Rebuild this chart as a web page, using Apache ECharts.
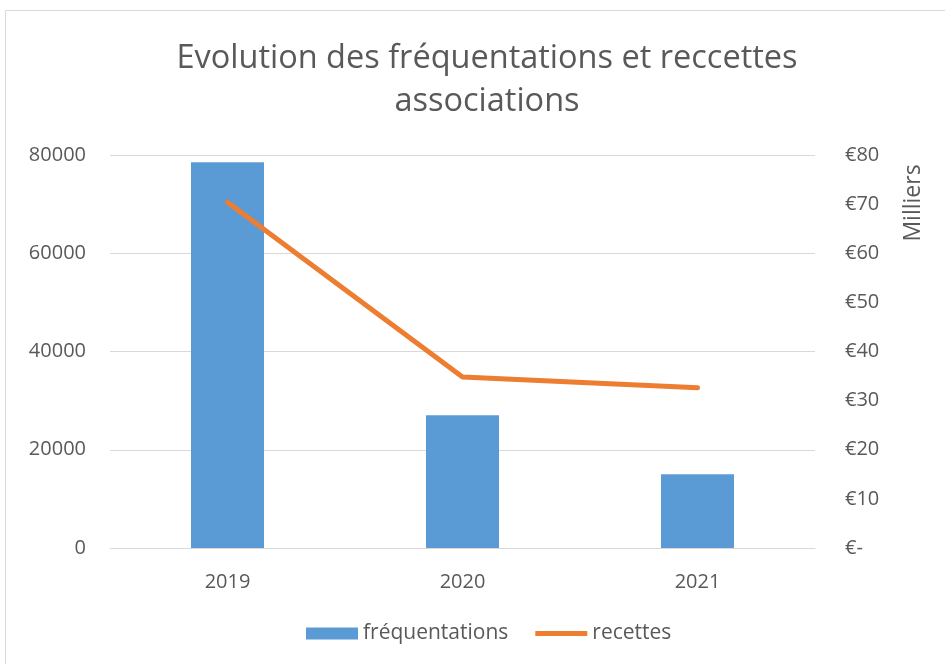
<!DOCTYPE html>
<html><head><meta charset="utf-8">
<script src="https://cdn.jsdelivr.net/npm/echarts@6/dist/echarts.min.js"></script>
<style>html,body{margin:0;padding:0;background:#fff}#c{width:945px;height:664px}</style>
</head><body><div id="c"></div>
<script>
const categories = ['2019', '2020', '2021'];
const frequentations = [78500, 27000, 15000];
const recettes = [70.4, 34.8, 32.6];
const leftTicks = [0, 20000, 40000, 60000, 80000];
const rightTicks = [0, 10, 20, 30, 40, 50, 60, 70, 80];

const FONT = '"Open Sans", "Noto Sans", sans-serif';
const TXT = '#595959';
const chart = echarts.init(document.getElementById('c'));
chart.setOption({
  animation: false,
  textStyle: { fontFamily: FONT },
  title: {
    text: 'Evolution des fréquentations et reccettes\nassociations',
    left: 482, top: 32, textAlign: 'center',
    textStyle: { fontFamily: FONT, fontSize: 32.5, fontWeight: 'normal', color: TXT, lineHeight: 43 }
  },
  graphic: [
    { type: 'rect', shape: { x: 5.5, y: 10.5, width: 1000, height: 700 }, style: { fill: 'none', stroke: '#d9d9d9', lineWidth: 1 } },
    { type: 'text', x: 913, y: 203, rotation: Math.PI / 2, style: { text: 'Milliers', fontFamily: FONT, fontSize: 23, fill: TXT, align: 'center', verticalAlign: 'middle' } }
  ],
  legend: {
    bottom: 15, left: 301, itemGap: 27, itemWidth: 52, itemHeight: 12,
    textStyle: { fontFamily: FONT, fontSize: 21, color: TXT },
    data: [
      { name: 'fréquentations', icon: 'rect' },
      { name: 'recettes', icon: 'path://M0,0 L52,0 L52,5 L0,5 Z' }
    ]
  },
  grid: { left: 110, right: 130, top: 155, bottom: 116, containLabel: false },
  xAxis: {
    type: 'category', data: categories,
    axisLine: { lineStyle: { color: '#d9d9d9' } }, axisTick: { show: false },
    axisLabel: { fontSize: 20, color: TXT, margin: 24 }
  },
  yAxis: [
    { type: 'value', min: 0, max: 80000, interval: 20000,
      axisLabel: { fontSize: 20, color: TXT, margin: 24, formatter: v => String(v) },
      splitLine: { lineStyle: { color: '#d9d9d9' } }, axisLine: { show: false }, axisTick: { show: false } },
    { type: 'value', min: 0, max: 80, interval: 10,
      axisLabel: { fontSize: 20, color: TXT, margin: 30, formatter: v => v === 0 ? '€-' : '€' + v },
      splitLine: { show: false }, axisLine: { show: false }, axisTick: { show: false } }
  ],
  series: [
    { name: 'fréquentations', type: 'bar', data: frequentations, barWidth: 73,
      itemStyle: { color: '#5B9BD5' } },
    { name: 'recettes', type: 'line', yAxisIndex: 1, data: recettes, symbol: 'none',
      lineStyle: { color: '#ED7D31', width: 5, cap: 'round', join: 'round' }, itemStyle: { color: '#ED7D31' } }
  ]
});
</script></body></html>
